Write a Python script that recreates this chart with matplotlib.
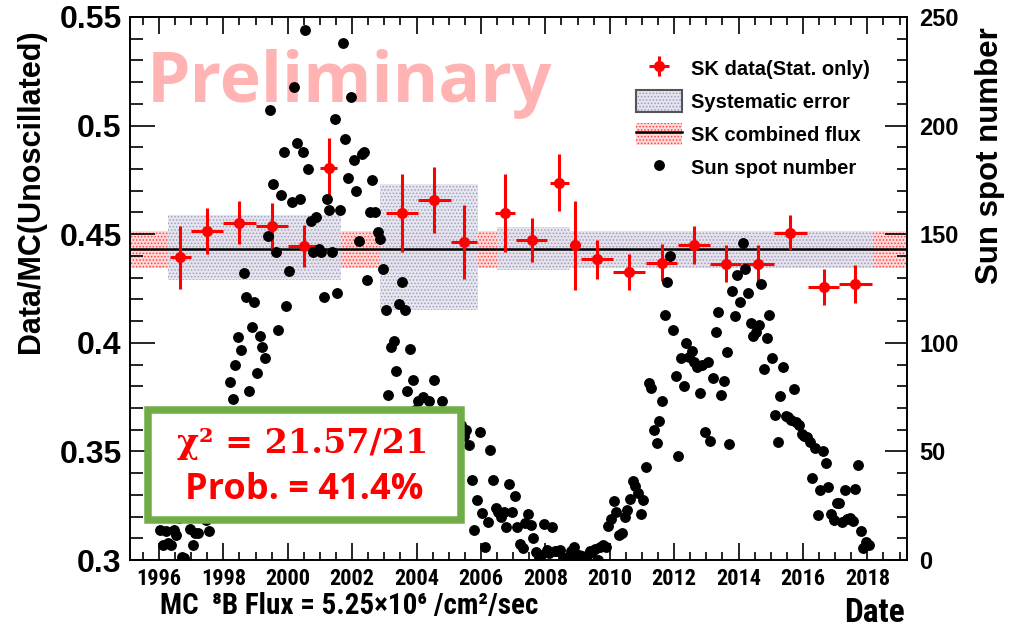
import matplotlib
matplotlib.use('Agg')
import matplotlib.pyplot as plt
import numpy as np
from matplotlib import font_manager as fm
from matplotlib.patches import Patch, Rectangle
from matplotlib.lines import Line2D
from matplotlib.legend_handler import HandlerTuple
from matplotlib.ticker import MultipleLocator

# SK yearly 8B flux / MC (statistical errors only)
sk_year = [1996.66, 1997.5, 1998.5, 1999.5, 2000.5, 2001.27, 2003.54, 2004.55,
           2005.47, 2006.75, 2007.57, 2008.43, 2008.92, 2009.6, 2010.6, 2011.61,
           2012.61, 2013.6, 2014.61, 2015.61, 2016.64, 2017.63]
sk_xerr = [0.32, 0.5, 0.5, 0.5, 0.5, 0.27, 0.49, 0.51, 0.4, 0.31, 0.49, 0.3,
           0.1, 0.49, 0.49, 0.49, 0.5, 0.49, 0.49, 0.5, 0.49, 0.5]
sk_flux = [0.4394, 0.4515, 0.4553, 0.4539, 0.4446, 0.4806, 0.4596, 0.4657,
           0.4463, 0.4596, 0.4473, 0.4737, 0.4450, 0.4385, 0.4327, 0.4369,
           0.4450, 0.4363, 0.4363, 0.4507, 0.4256, 0.4270]
sk_err = [0.0145, 0.0107, 0.0098, 0.0105, 0.0098, 0.0136, 0.018, 0.0153,
          0.0171, 0.018, 0.0102, 0.013, 0.0205, 0.009, 0.0084, 0.0086,
          0.0086, 0.0085, 0.0085, 0.0082, 0.0084, 0.0088]

# systematic error per SK phase
sys_start = [1996.28, 2002.86, 2006.5, 2008.76]
sys_end = [2001.65, 2005.9, 2008.76, 2018.17]
sys_center = [0.4438, 0.4439, 0.4434, 0.4427]
sys_err = [0.015, 0.029, 0.0099, 0.0083]

# combined flux
comb_flux = 0.443
comb_err = 0.0086

# monthly sun spot number, Jan 1996 ... Jan 2018
sunspot_start = 1996
sunspot = [
    13.8, 6.8, 13.4, 7.8, 6.9, 14.0, 11.5, 19.5, 1.5, 0.9, 24.0, 14.3,       # 1996
    6.9, 12.4, 12.6, 22.5, 26.8, 18.4, 13.5, 35.4, 66.0, 33.1, 56.6, 59.7,   # 1997
    46.3, 58.4, 82.0, 74.0, 90.0, 102.5, 96.6, 132.0, 121.0, 78.0, 107.3, 119.0,  # 1998
    86.0, 103.0, 98.0, 93.0, 149.0, 207.0, 173.0, 142.0, 106.0, 168.0, 188.0, 117.0,  # 1999
    133.0, 165.0, 218.0, 192.0, 166.0, 188.0, 244.0, 180.0, 156.0, 142.0, 158.0, 143.0,  # 2000
    142.0, 121.0, 166.0, 161.0, 142.0, 203.0, 123.0, 161.0, 238.0, 194.0, 176.0, 213.0,  # 2001
    184.0, 170.0, 147.0, 187.0, 188.0, 129.0, 160.0, 175.0, 160.0, 151.0, 148.0, 134.0,  # 2002
    115.0, 76.0, 98.0, 101.0, 87.0, 118.0, 128.0, 115.0, 78.0, 97.0, 83.0, 69.0,  # 2003
    73.0, 66.0, 75.0, 57.0, 73.0, 63.0, 83.0, 59.0, 40.0, 73.0, 63.0, 26.0,  # 2004
    45.0, 42.0, 36.0, 35.0, 62.0, 57.0, 60.0, 53.0, 37.0, 13.8, 27.6, 59.0,  # 2005
    21.6, 6.0, 17.6, 50.6, 36.8, 24.0, 22.0, 20.0, 22.0, 15.0, 35.0, 22.0,   # 2006
    29.6, 15.0, 7.4, 5.4, 17.0, 21.0, 16.0, 10.0, 3.5, 1.3, 2.5, 16.8,       # 2007
    4.8, 3.0, 15.0, 4.2, 4.2, 4.5, 0.7, 0.7, 1.6, 4.2, 6.0, 1.2,             # 2008
    2.2, 2.0, 1.0, 1.7, 4.2, 3.8, 5.0, 0.0, 6.2, 7.0, 6.0, 15.7,             # 2009
    19.0, 27.0, 22.0, 11.6, 12.6, 20.0, 23.0, 28.0, 36.5, 34.0, 31.0, 21.0,  # 2010
    27.6, 42.6, 81.5, 79.0, 60.0, 54.0, 64.0, 73.0, 113.0, 128.0, 140.0, 106.0,  # 2011
    84.5, 48.0, 93.0, 80.0, 100.0, 93.5, 96.4, 91.0, 89.0, 77.0, 89.6, 59.0,  # 2012
    91.0, 55.0, 84.0, 105.0, 114.0, 76.0, 82.6, 95.7, 53.6, 124.0, 112.5, 131.0,  # 2013
    119.0, 146.0, 134.0, 123.0, 109.0, 103.0, 105.0, 108.0, 127.0, 88.0, 102.0, 113.0,  # 2014
    93.0, 66.7, 54.5, 75.3, 88.8, 66.5, 65.8, 64.4, 78.6, 63.6, 62.2, 58.0,  # 2015
    57.0, 56.4, 54.1, 37.9, 51.5, 20.5, 32.4, 50.2, 44.6, 33.4, 21.4, 18.5,  # 2016
    26.1, 26.4, 17.7, 32.3, 18.9, 19.2, 17.8, 32.6, 43.6, 13.2, 5.7, 8.2,   # 2017
    6.8,                                                                     # 2018
]

year_ticks = list(range(1996, 2019, 2))
flux_ticks = [0.3, 0.35, 0.4, 0.45, 0.5, 0.55]
spot_ticks = [0, 50, 100, 150, 200, 250]

W, H = 1011, 628


def fx(x):
    return x / W


def fy(y):
    return 1 - y / H


def narrow_font():
    # look for a condensed sans face, otherwise plain Liberation Sans
    for fam in ['Liberation Sans Narrow', 'Roboto Condensed',
                'Open Sans Condensed']:
        try:
            fm.findfont(fm.FontProperties(family=fam),
                        fallback_to_default=False)
            return {'family': fam}
        except ValueError:
            pass
    path = fm.findfont(fm.FontProperties(family='DejaVu Sans',
                                         stretch='condensed'))
    if 'Condensed' in path:
        return {'family': 'DejaVu Sans', 'stretch': 'condensed'}
    return {'family': 'Liberation Sans'}


plt.rcParams['font.family'] = 'Liberation Sans'
plt.rcParams['hatch.linewidth'] = 0.7
narrow = narrow_font()
is_narrow = narrow['family'] != 'Liberation Sans'

fig = plt.figure(figsize=(W / 100, H / 100), dpi=100)
ax = fig.add_axes([fx(130), fy(560), 777 / W, 543 / H])
ax.set_xlim(1995.1, 2019.23)
ax.set_ylim(0.3, 0.55)

# combined flux band and line
ax.fill_between([1995.1, 2019.23], comb_flux - comb_err, comb_flux + comb_err,
                facecolor='#ffd8d8', edgecolor='#ff4040', hatch='.....',
                lw=0, zorder=1)
for s, e, c, err in zip(sys_start, sys_end, sys_center, sys_err):
    ax.fill_between([s, e], c - err, c + err, facecolor='#e4e4ee',
                    edgecolor='#9a9abf', hatch='.....', lw=0, alpha=0.9,
                    zorder=2)
ax.axhline(comb_flux, color='black', lw=1.8, zorder=3)

sk = ax.errorbar(sk_year, sk_flux, xerr=sk_xerr, yerr=sk_err, fmt='o',
                 color='red', ms=7, elinewidth=2.2, capsize=0, zorder=4)

ax.text(fx(147), fy(102), 'Preliminary', transform=fig.transFigure,
        family='Open Sans', weight='bold', fontsize=50, color='#ffb3b3',
        ha='left', va='baseline', zorder=0.5)

# sun spots on the right axis
ax2 = ax.twinx()
ax2.set_ylim(0, 250)
spot_x = sunspot_start + (np.arange(len(sunspot)) + 0.5) / 12
ax2.plot(spot_x, sunspot, 'o', color='black', ms=6.8, ls='none', zorder=3)

# ticks
ax.set_xticks(year_ticks, [str(y) for y in year_ticks], fontweight='bold',
              fontsize=16 if is_narrow else 14.5, **narrow)
ax.xaxis.set_minor_locator(MultipleLocator(0.5))
ax.set_yticks(flux_ticks, ['%g' % v for v in flux_ticks], fontsize=23,
              fontweight='bold')
ax.yaxis.set_minor_locator(MultipleLocator(0.01))
ax.tick_params(axis='x', which='both', direction='in', top=True, bottom=True,
               width=1.2, pad=6)
ax.tick_params(axis='x', which='major', length=12)
ax.tick_params(axis='x', which='minor', length=6)
ax.tick_params(axis='y', which='both', direction='in', left=True, right=False,
               width=1.2, pad=6)
ax.tick_params(axis='y', which='major', length=18)
ax.tick_params(axis='y', which='minor', length=9.5)

ax2.set_yticks(spot_ticks, [str(v) for v in spot_ticks], fontsize=17,
               fontweight='bold')
ax2.yaxis.set_minor_locator(MultipleLocator(10))
ax2.tick_params(axis='y', which='both', direction='in', width=1.2, pad=9)
ax2.tick_params(axis='y', which='major', length=16)
ax2.tick_params(axis='y', which='minor', length=7)
for a in (ax, ax2):
    for sp in a.spines.values():
        sp.set_linewidth(1.2)

# axis titles
fig.text(fx(31), fy(191), 'Data/MC(Unoscillated)', rotation=90, ha='center',
         va='center', fontsize=22, fontweight='bold')
fig.text(fx(990), fy(156), 'Sun spot number', rotation=90, ha='center',
         va='center', fontsize=22.5, fontweight='bold')
xl_family = [narrow['family'], 'DejaVu Sans']
fig.text(fx(160), fy(606), 'MC  \u2078B Flux = 5.25\u00d710\u2076 /cm\u00b2/sec',
         family=xl_family, stretch=narrow.get('stretch', 'normal'),
         fontweight='bold', fontsize=21 if is_narrow else 16,
         ha='left', va='center')
fig.text(fx(905), fy(622), 'Date', fontweight='bold',
         fontsize=24 if is_narrow else 21, ha='right', va='baseline',
         **narrow)

# legend
h_sys = (Patch(facecolor='#e4e4ee', edgecolor='#9a9abf', hatch='.....', lw=0),
         Patch(facecolor='none', edgecolor='#555555', lw=1.5))
h_comb = (Patch(facecolor='#ffd8d8', edgecolor='#ff4040', hatch='.....', lw=0),
          Line2D([], [], color='black', lw=1.8))
h_spot = Line2D([], [], marker='o', color='black', ms=6.8, ls='none')
fig.legend([sk, h_sys, h_comb, h_spot],
           ['SK data(Stat. only)', 'Systematic error', 'SK combined flux',
            'Sun spot number'],
           handler_map={tuple: HandlerTuple(ndivide=1, pad=0)},
           loc='upper left', bbox_to_anchor=(fx(636), fy(57)),
           frameon=False, prop={'family': 'Liberation Sans', 'weight': 'bold',
                                'size': 14.5},
           handlelength=2.3, handleheight=1.3, handletextpad=0.45,
           labelspacing=0.55, borderpad=0, borderaxespad=0)

# chi2 box
fig.add_artist(Rectangle((fx(148.3), fy(520.3)), (460.8 - 148.3) / W,
                         (520.3 - 409.5) / H, transform=fig.transFigure,
                         facecolor='white', edgecolor='#70ad47', lw=5.4,
                         zorder=5))
fig.text(fx(303), fy(443), '\u03c7\u00b2 = 21.57/21', color='red',
         family='DejaVu Serif', fontweight='bold', fontsize=24, ha='center',
         va='center', zorder=6)
fig.text(fx(304), fy(490), 'Prob. = 41.4%', color='red', family='Open Sans',
         fontweight='bold', fontsize=26, ha='center', va='center', zorder=6)

fig.savefig('out.png', dpi=100)
